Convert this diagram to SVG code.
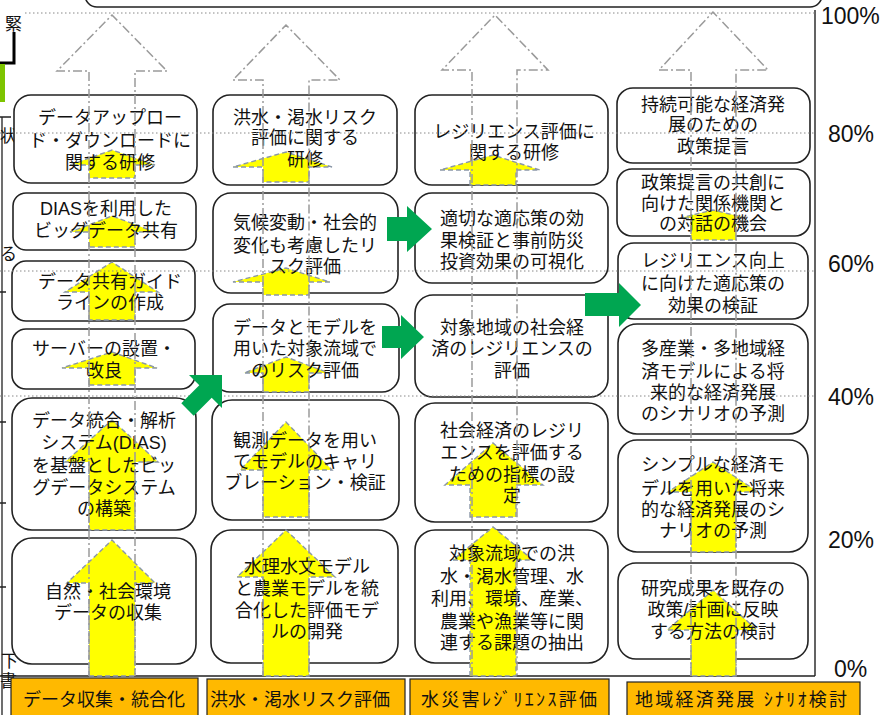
<svg xmlns="http://www.w3.org/2000/svg" width="889" height="715" viewBox="0 0 889 715">
<style>
.bg{fill:#fff}
.box{fill:#fff;stroke:#222;stroke-width:1.6}
.t{font-family:"Liberation Sans","Noto Sans CJK JP","Noto Sans CJK SC",sans-serif;font-size:18px;fill:#111;text-anchor:middle}
.frag{font-family:"Liberation Sans","Noto Sans CJK JP",sans-serif;font-size:17px;fill:#111}
.ya{fill:#ffff00;stroke:#8a97a8;stroke-width:1.4;stroke-dasharray:5 3}
.big{fill:none;stroke:#9a9a9a;stroke-width:1.5;stroke-dasharray:9 3 2 3}
.grid{stroke:#888;stroke-width:1;stroke-dasharray:1.5 2.5;fill:none}
.pct{font-family:"Liberation Sans",Arial,sans-serif;font-size:23px;fill:#111}
.ob{fill:#FFB900;stroke:#222;stroke-width:1.2}
.ot{font-family:"Liberation Sans","Noto Sans CJK JP",sans-serif;font-size:18px;fill:#111;text-anchor:middle}
.green{fill:#00A651}
.frame{stroke:#222;stroke-width:1.4;fill:none}
</style>
<rect class="bg" x="0" y="0" width="889" height="715"/>

<!-- background fragments -->
<g id="fragments">
  <rect x="85" y="-30" width="737" height="37" rx="12" fill="#fff" stroke="#222" stroke-width="1.6"/>
  <path d="M14,32 V63 H-2" fill="none" stroke="#000" stroke-width="3"/>
  <text class="frag" x="5" y="30">緊</text>
  <rect x="0" y="64" width="5" height="38" fill="#7DC400"/>
  <path d="M2,117 V715 M0,117 H11 M0,292 H6 M0,422 H6 M0,503 H6 M0,587 H6" stroke="#222" stroke-width="1.3" fill="none"/>
  <text class="frag" x="0" y="142">状</text>
  <text class="frag" x="0" y="260">る</text>
  <text class="frag" x="1" y="667">下</text>
  <text class="frag" x="0" y="687">書</text>
</g>

<!-- frame -->
<path class="frame" d="M815,10 V676 M0,676 H815"/>

<!-- Column 1 -->
<g id="c1n1"><rect class="box" x="14" y="95" width="183" height="88" rx="17"/>
<path class="ya" d="M89,178 V165 H70 L112,150 L155,165 H135 V178 Z"/>
<text class="t" x="110" y="124"><tspan x="110">データアップロー</tspan><tspan x="110" dy="22.5">ド・ダウンロードに</tspan><tspan x="110" dy="22">関する研修</tspan></text></g>
<g id="c1n2"><rect class="box" x="13" y="193" width="183" height="57" rx="13"/>
<path class="ya" d="M89,247 V232 H70 L112,216 L155,232 H135 V247 Z"/>
<text class="t" x="106" y="214.5"><tspan x="106">DIASを利用した</tspan><tspan x="106" dy="22">ビッグデータ共有</tspan></text></g>
<g id="c1n3"><rect class="box" x="12" y="261" width="183" height="60" rx="14"/>
<path class="ya" d="M89,320 V292 H65 L112,262 L158,292 H135 V320 Z"/>
<text class="t" x="110" y="288"><tspan x="110">データ共有ガイド</tspan><tspan x="110" dy="20.5">ラインの作成</tspan></text></g>
<g id="c1n4"><rect class="box" x="12" y="329" width="183" height="60" rx="14"/>
<path class="ya" d="M89,385 V368 H62 L112,352 L157,368 H135 V385 Z"/>
<text class="t" x="104" y="354.5"><tspan x="104">サーバーの設置・</tspan><tspan x="104" dy="22">改良</tspan></text></g>
<g id="c1n5"><rect class="box" x="12" y="398" width="184" height="132" rx="20"/>
<path class="ya" d="M89,530 V462 H65 L112,420 L158,462 H135 V530 Z"/>
<text class="t" x="104" y="426.5"><tspan x="104">データ統合・解析</tspan><tspan x="104" dy="22">システム(DIAS)</tspan><tspan x="104" dy="23">を基盤としたビッ</tspan><tspan x="104" dy="22">グデータシステム</tspan><tspan x="104" dy="21">の構築</tspan></text></g>
<g id="c1n6"><rect class="box" x="12" y="538" width="184" height="126" rx="20"/>
<path class="ya" d="M89,676 V583 H67 L112,540 L155,583 H135 V676 Z"/>
<text class="t" x="108" y="598"><tspan x="108">自然・社会環境</tspan><tspan x="108" dy="20.5">データの収集</tspan></text></g>

<!-- Column 2 -->
<g id="c2n1"><rect class="box" x="213" y="95" width="184" height="90" rx="17"/>
<path class="ya" d="M263,182 V167 H233 L286,152 L332,167 H309 V182 Z"/>
<text class="t" x="305" y="123.5"><tspan x="305">洪水・渇水リスク</tspan><tspan x="305" dy="20.5">評価に関する</tspan><tspan x="305" dy="22">研修</tspan></text></g>
<g id="c2n2"><rect class="box" x="213" y="193" width="185" height="100" rx="18"/>
<path class="ya" d="M263,295 V282 H233 L286,268 L330,282 H309 V295 Z"/>
<text class="t" x="305" y="228.5"><tspan x="305">気候変動・社会的</tspan><tspan x="305" dy="23.5">変化も考慮したリ</tspan><tspan x="305" dy="20.5">スク評価</tspan></text></g>
<g id="c2n3"><rect class="box" x="213" y="304" width="186" height="88" rx="17"/>
<path class="ya" d="M263,392 V373 H244 L286,357 L329,373 H309 V392 Z"/>
<text class="t" x="305" y="333.5"><tspan x="305">データとモデルを</tspan><tspan x="305" dy="21">用いた対象流域で</tspan><tspan x="305" dy="22">のリスク評価</tspan></text></g>
<g id="c2n4"><rect class="box" x="212" y="400" width="187" height="120" rx="20"/>
<path class="ya" d="M263,517 V470 H240 L286,422 L332,470 H309 V517 Z"/>
<text class="t" x="305" y="446.5"><tspan x="305">観測データを用い</tspan><tspan x="305" dy="21">てモデルのキャリ</tspan><tspan x="305" dy="21">ブレーション・検証</tspan></text></g>
<g id="c2n5"><rect class="box" x="211" y="530" width="187" height="133" rx="20"/>
<path class="ya" d="M263,676 V577 H237 L286,530 L335,577 H309 V676 Z"/>
<text class="t" x="307" y="572.5"><tspan x="307">水理水文モデル</tspan><tspan x="307" dy="22">と農業モデルを統</tspan><tspan x="307" dy="22.5">合化した評価モデ</tspan><tspan x="307" dy="20.5">ルの開発</tspan></text></g>

<!-- Column 3 -->
<g id="c3n1"><rect class="box" x="415" y="95" width="193" height="90" rx="17"/>
<path class="ya" d="M470,185 V170 H440 L493,155 L540,170 H516 V185 Z"/>
<text class="t" x="514" y="138"><tspan x="514">レジリエンス評価に</tspan><tspan x="514" dy="20.5">関する研修</tspan></text></g>
<g id="c3n2"><rect class="box" x="415" y="193" width="193" height="90" rx="17"/>
<text class="t" x="512" y="224.5"><tspan x="512">適切な適応策の効</tspan><tspan x="512" dy="22">果検証と事前防災</tspan><tspan x="512" dy="21">投資効果の可視化</tspan></text></g>
<g id="c3n3"><rect class="box" x="415" y="295" width="193" height="102" rx="18"/>
<text class="t" x="512" y="333.5"><tspan x="512">対象地域の社会経</tspan><tspan x="512" dy="21">済のレジリエンスの</tspan><tspan x="512" dy="22">評価</tspan></text></g>
<g id="c3n4"><rect class="box" x="415" y="403" width="193" height="119" rx="20"/>
<path class="ya" d="M470,517 V485 H445 L493,443 L543,485 H516 V517 Z"/>
<text class="t" x="512" y="436.5"><tspan x="512">社会経済のレジリ</tspan><tspan x="512" dy="22">エンスを評価する</tspan><tspan x="512" dy="22">ための指標の設</tspan><tspan x="512" dy="21">定</tspan></text></g>
<g id="c3n5"><rect class="box" x="415" y="530" width="193" height="133" rx="20"/>
<path class="ya" d="M470,676 V560 H453 L493,527 L533,560 H516 V676 Z"/>
<text class="t" x="512" y="559.5"><tspan x="512">対象流域での洪</tspan><tspan x="512" dy="23">水・渇水管理、水</tspan><tspan x="512" dy="22">利用、環境、産業、</tspan><tspan x="512" dy="23">農業や漁業等に関</tspan><tspan x="512" dy="21">連する課題の抽出</tspan></text></g>

<!-- Column 4 -->
<g id="c4n1"><rect class="box" x="617" y="88" width="193" height="75" rx="16"/>
<text class="t" x="713" y="110.5"><tspan x="713">持続可能な経済発</tspan><tspan x="713" dy="20.5">展のための</tspan><tspan x="713" dy="21.5">政策提言</tspan></text></g>
<g id="c4n2"><rect class="box" x="617" y="169" width="193" height="67" rx="15"/>
<path class="ya" d="M691,240 V218 H680 L713,210 L746,218 H736 V240 Z"/>
<text class="t" x="713" y="189"><tspan x="713">政策提言の共創に</tspan><tspan x="713" dy="20.5">向けた関係機関と</tspan><tspan x="713" dy="20.5">の対話の機会</tspan></text></g>
<g id="c4n3"><rect class="box" x="618" y="243" width="190" height="76" rx="16"/>
<text class="t" x="713" y="266.5"><tspan x="713">レジリエンス向上</tspan><tspan x="713" dy="23">に向けた適応策の</tspan><tspan x="713" dy="22">効果の検証</tspan></text></g>
<g id="c4n4"><rect class="box" x="618" y="324" width="190" height="110" rx="19"/>
<text class="t" x="713" y="354.5"><tspan x="713">多産業・多地域経</tspan><tspan x="713" dy="23">済モデルによる将</tspan><tspan x="713" dy="21.5">来的な経済発展</tspan><tspan x="713" dy="20.5">のシナリオの予測</tspan></text></g>
<g id="c4n5"><rect class="box" x="618" y="440" width="190" height="112" rx="19"/>
<path class="ya" d="M691,552 V492 H668 L713,462 L758,492 H736 V552 Z"/>
<text class="t" x="713" y="470.5"><tspan x="713">シンプルな経済モ</tspan><tspan x="713" dy="24">デルを用いた将来</tspan><tspan x="713" dy="21.5">的な経済発展のシ</tspan><tspan x="713" dy="20.5">ナリオの予測</tspan></text></g>
<g id="c4n6"><rect class="box" x="618" y="563" width="190" height="96" rx="18"/>
<path class="ya" d="M691,676 V630 H667 L713,590 L757,630 H736 V676 Z"/>
<text class="t" x="713" y="594.5"><tspan x="713">研究成果を既存の</tspan><tspan x="713" dy="21">政策/計画に反映</tspan><tspan x="713" dy="22">する方法の検討</tspan></text></g>

<!-- grid -->
<g id="grid">
  <path class="grid" d="M25,13 H815 M0,133 H815 M0,271 H815 M0,396 H815"/>
</g>

<!-- big outline arrows -->
<g id="outline-arrows">
  <path class="big" d="M89,676 V71 H57 L112,15 L167,71 H135 V676"/>
  <path class="big" d="M263,676 V80 H233 L286,25 L340,80 H309 V676"/>
  <path class="big" d="M472,676 V70 H442 L495,15 L548,70 H517 V676"/>
  <path class="big" d="M691,676 V70 H659 L713,12 L768,70 H736 V676"/>
</g>

<!-- connectors -->
<g id="connectors">
  <polygon class="green" points="222,375 222,408 211.7,397.7 193.7,415.7 181.3,403.3 199.3,385.3 189,375"/>
  <polygon class="green" points="387,217 407,217 407,206 432,229 407,252 407,241 387,241"/>
  <polygon class="green" points="382,326 401,326 401,315 424,337 401,359 401,348 382,348"/>
  <polygon class="green" points="585,293 619,293 619,283 641,305 619,327 619,316 585,316"/>
</g>

<!-- percent axis -->
<g id="axis">
  <text class="pct" x="821" y="24">100%</text>
  <text class="pct" x="828" y="142">80%</text>
  <text class="pct" x="828" y="272">60%</text>
  <text class="pct" x="828" y="405">40%</text>
  <text class="pct" x="828" y="548">20%</text>
  <text class="pct" x="834" y="677">0%</text>
</g>

<!-- bottom categories -->
<g id="cat1"><rect class="ob" x="11" y="678" width="187" height="40"/><text class="ot" x="104" y="706">データ収集・統合化</text></g>
<g id="cat2"><rect class="ob" x="207" y="679" width="198" height="40"/><text class="ot" x="300" y="706">洪水・渇水リスク評価</text></g>
<g id="cat3"><rect class="ob" x="410" y="679" width="199" height="40"/><text class="ot" x="509" y="706" textLength="176" lengthAdjust="spacing">水災害ﾚｼﾞﾘｴﾝｽ評価</text></g>
<g id="cat4"><rect class="ob" x="627" y="682" width="233" height="40"/><text class="ot" x="741" y="706" textLength="212" lengthAdjust="spacing">地域経済発展 ｼﾅﾘｵ検討</text></g>
</svg>
